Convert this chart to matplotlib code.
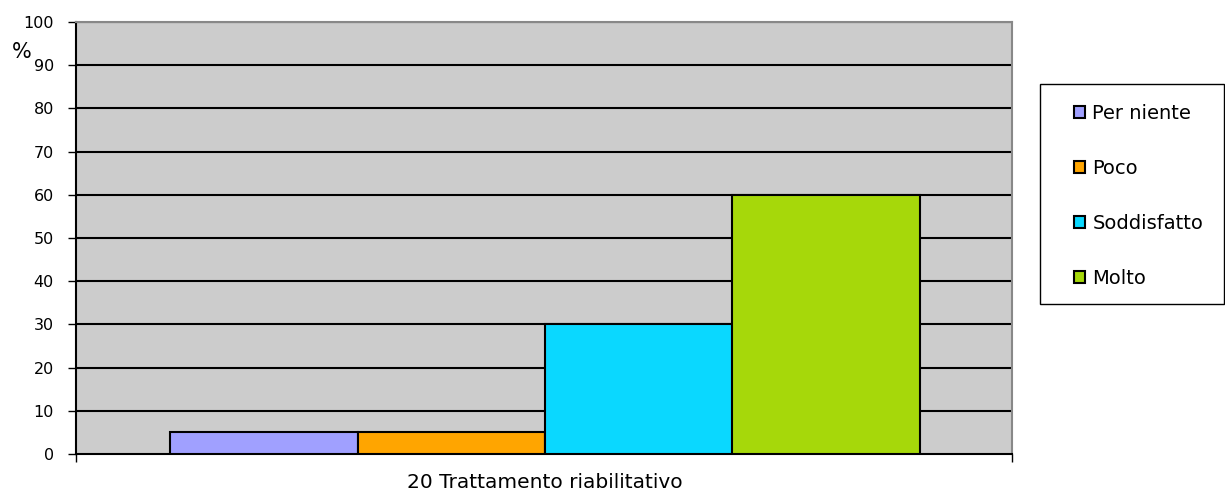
import matplotlib
matplotlib.use("Agg")
import matplotlib.pyplot as plt
from matplotlib.patches import Patch, Rectangle

categories = ["20 Trattamento riabilitativo"]
series = ["Per niente", "Poco", "Soddisfatto", "Molto"]
values = [5, 5, 30, 60]
colors = ["#A0A0FF", "#FFA500", "#0AD8FF", "#A6D80A"]
yticks = [0, 10, 20, 30, 40, 50, 60, 70, 80, 90, 100]

W, H = 1225, 491
plt.rcParams['font.family'] = ['DejaVu Sans']
fig = plt.figure(figsize=(W/100, H/100), dpi=100)
ax = fig.add_axes([76/W, 1 - 454/H, (1012-76)/W, (454-22)/H])
ax.set_facecolor("#CCCCCC")

bw = 187.5/936
start = (170-76)/936
for i, (s, v, c) in enumerate(zip(series, values, colors)):
    ax.bar(start + bw*i + bw/2, v, width=bw, color=c, edgecolor="black", linewidth=1.5, label=s, zorder=3)

ax.set_xlim(0, 1)
ax.set_ylim(0, 100)
ax.set_yticks(yticks)
ax.set_yticklabels([str(t) for t in yticks], fontsize=11.5)
for t in yticks[1:]:
    ax.axhline(t, color="black", linewidth=1.5, zorder=1)
ax.tick_params(axis='y', length=6, width=1, direction='out', pad=10)
ax.set_xticks([0, 1])
ax.set_xticklabels(["", ""])
ax.tick_params(axis='x', length=6, width=1, direction='out')
fig.text(545/W, 1 - 482/H, categories[0], ha='center', va='center', fontsize=14.5)
for sp in ["top", "right"]:
    ax.spines[sp].set_color("#888888")
    ax.spines[sp].set_linewidth(1.5)
ax.spines["left"].set_linewidth(1.5)
ax.spines["bottom"].set_linewidth(1.5)

fig.text(22/W, 1 - 52/H, "%", fontsize=15, ha='center', va='center')

# legend frame
fig.patches.append(Rectangle((1040/W, 1 - 304/H), (1224-1040)/W, (304-84)/H,
                             transform=fig.transFigure, facecolor="white",
                             edgecolor="black", linewidth=1, zorder=0))
handles = [Patch(facecolor=c, edgecolor="black", linewidth=1.5, label=s) for s, c in zip(series, colors)]
leg = fig.legend(handles=handles, loc='upper left', bbox_to_anchor=(1074/W, 1 - 104/H),
                 frameon=False, fontsize=14,
                 handlelength=0.55, handleheight=0.55, handletextpad=0.4, labelspacing=1.85,
                 borderpad=0, borderaxespad=0)

fig.savefig("out.png", dpi=100)
